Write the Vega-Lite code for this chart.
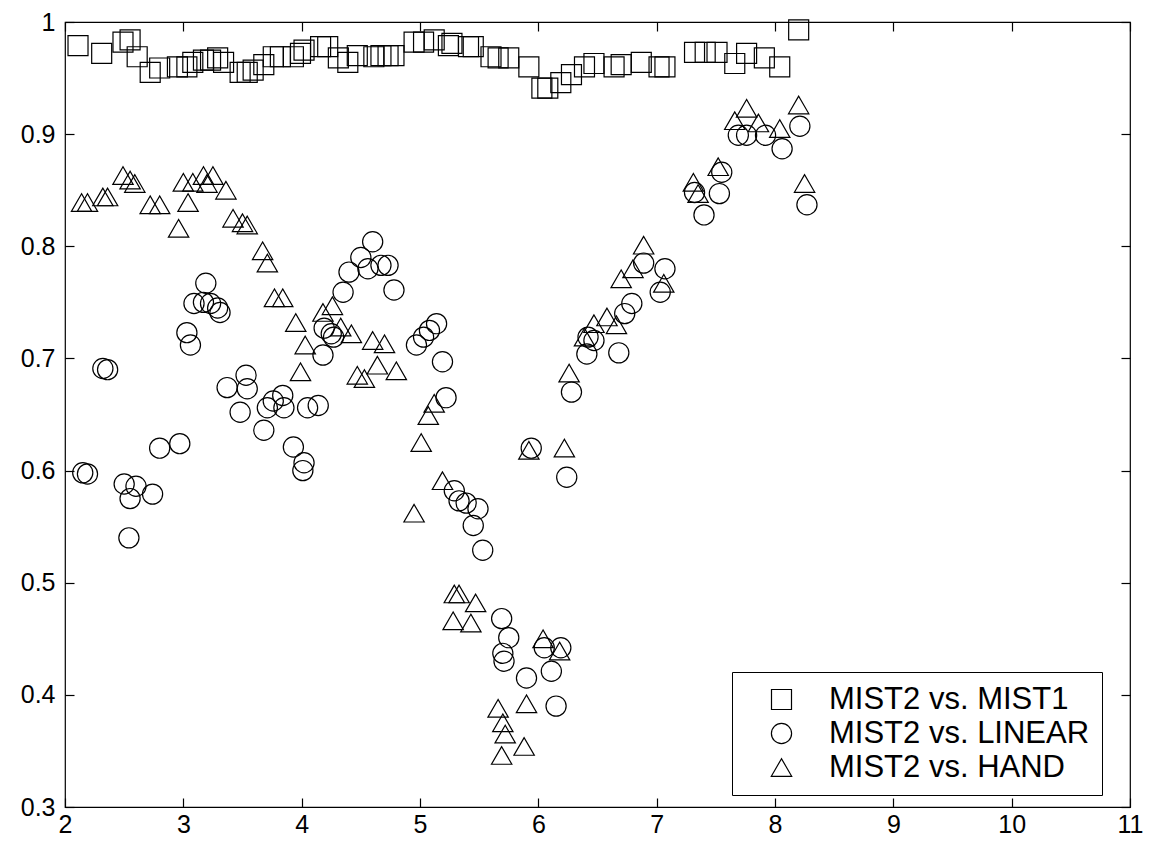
{
  "$schema": "https://vega.github.io/schema/vega-lite/v6.json",
  "width": 1065,
  "height": 785,
  "autosize": {"type": "none"},
  "padding": {"left": 65, "top": 22, "right": 30, "bottom": 39},
  "background": "white",
  "config": {
    "view": {"stroke": "black", "strokeWidth": 1.2},
    "font": "Liberation Sans",
    "axis": {"grid": false, "domain": false, "ticks": true, "tickColor": "black", "tickWidth": 1.2, "labelColor": "black", "labelFont": "Liberation Sans", "labelFontSize": 25, "title": null}
  },
  "data": {"values": [
    {"series": "MIST2 vs. MIST1", "x": 2.11, "y": 0.979},
    {"series": "MIST2 vs. MIST1", "x": 2.31, "y": 0.972},
    {"series": "MIST2 vs. MIST1", "x": 2.49, "y": 0.982},
    {"series": "MIST2 vs. MIST1", "x": 2.55, "y": 0.984},
    {"series": "MIST2 vs. MIST1", "x": 2.61, "y": 0.969},
    {"series": "MIST2 vs. MIST1", "x": 2.72, "y": 0.955},
    {"series": "MIST2 vs. MIST1", "x": 2.80, "y": 0.959},
    {"series": "MIST2 vs. MIST1", "x": 2.95, "y": 0.960},
    {"series": "MIST2 vs. MIST1", "x": 3.03, "y": 0.960},
    {"series": "MIST2 vs. MIST1", "x": 3.08, "y": 0.964},
    {"series": "MIST2 vs. MIST1", "x": 3.17, "y": 0.966},
    {"series": "MIST2 vs. MIST1", "x": 3.23, "y": 0.966},
    {"series": "MIST2 vs. MIST1", "x": 3.29, "y": 0.968},
    {"series": "MIST2 vs. MIST1", "x": 3.34, "y": 0.964},
    {"series": "MIST2 vs. MIST1", "x": 3.48, "y": 0.955},
    {"series": "MIST2 vs. MIST1", "x": 3.54, "y": 0.955},
    {"series": "MIST2 vs. MIST1", "x": 3.59, "y": 0.957},
    {"series": "MIST2 vs. MIST1", "x": 3.68, "y": 0.962},
    {"series": "MIST2 vs. MIST1", "x": 3.76, "y": 0.969},
    {"series": "MIST2 vs. MIST1", "x": 3.82, "y": 0.969},
    {"series": "MIST2 vs. MIST1", "x": 3.93, "y": 0.969},
    {"series": "MIST2 vs. MIST1", "x": 3.99, "y": 0.972},
    {"series": "MIST2 vs. MIST1", "x": 4.02, "y": 0.975},
    {"series": "MIST2 vs. MIST1", "x": 4.16, "y": 0.978},
    {"series": "MIST2 vs. MIST1", "x": 4.22, "y": 0.978},
    {"series": "MIST2 vs. MIST1", "x": 4.31, "y": 0.968},
    {"series": "MIST2 vs. MIST1", "x": 4.39, "y": 0.964},
    {"series": "MIST2 vs. MIST1", "x": 4.47, "y": 0.970},
    {"series": "MIST2 vs. MIST1", "x": 4.61, "y": 0.969},
    {"series": "MIST2 vs. MIST1", "x": 4.67, "y": 0.970},
    {"series": "MIST2 vs. MIST1", "x": 4.73, "y": 0.970},
    {"series": "MIST2 vs. MIST1", "x": 4.78, "y": 0.970},
    {"series": "MIST2 vs. MIST1", "x": 4.95, "y": 0.982},
    {"series": "MIST2 vs. MIST1", "x": 5.03, "y": 0.982},
    {"series": "MIST2 vs. MIST1", "x": 5.12, "y": 0.984},
    {"series": "MIST2 vs. MIST1", "x": 5.24, "y": 0.979},
    {"series": "MIST2 vs. MIST1", "x": 5.27, "y": 0.981},
    {"series": "MIST2 vs. MIST1", "x": 5.41, "y": 0.978},
    {"series": "MIST2 vs. MIST1", "x": 5.45, "y": 0.978},
    {"series": "MIST2 vs. MIST1", "x": 5.60, "y": 0.969},
    {"series": "MIST2 vs. MIST1", "x": 5.66, "y": 0.968},
    {"series": "MIST2 vs. MIST1", "x": 5.75, "y": 0.968},
    {"series": "MIST2 vs. MIST1", "x": 5.92, "y": 0.960},
    {"series": "MIST2 vs. MIST1", "x": 6.03, "y": 0.941},
    {"series": "MIST2 vs. MIST1", "x": 6.08, "y": 0.941},
    {"series": "MIST2 vs. MIST1", "x": 6.19, "y": 0.946},
    {"series": "MIST2 vs. MIST1", "x": 6.28, "y": 0.953},
    {"series": "MIST2 vs. MIST1", "x": 6.39, "y": 0.960},
    {"series": "MIST2 vs. MIST1", "x": 6.47, "y": 0.963},
    {"series": "MIST2 vs. MIST1", "x": 6.64, "y": 0.960},
    {"series": "MIST2 vs. MIST1", "x": 6.70, "y": 0.962},
    {"series": "MIST2 vs. MIST1", "x": 6.87, "y": 0.964},
    {"series": "MIST2 vs. MIST1", "x": 7.02, "y": 0.960},
    {"series": "MIST2 vs. MIST1", "x": 7.07, "y": 0.960},
    {"series": "MIST2 vs. MIST1", "x": 7.32, "y": 0.973},
    {"series": "MIST2 vs. MIST1", "x": 7.41, "y": 0.973},
    {"series": "MIST2 vs. MIST1", "x": 7.51, "y": 0.973},
    {"series": "MIST2 vs. MIST1", "x": 7.66, "y": 0.963},
    {"series": "MIST2 vs. MIST1", "x": 7.76, "y": 0.972},
    {"series": "MIST2 vs. MIST1", "x": 7.91, "y": 0.968},
    {"series": "MIST2 vs. MIST1", "x": 8.04, "y": 0.960},
    {"series": "MIST2 vs. MIST1", "x": 8.20, "y": 0.993},

    {"series": "MIST2 vs. LINEAR", "x": 2.15, "y": 0.598},
    {"series": "MIST2 vs. LINEAR", "x": 2.19, "y": 0.597},
    {"series": "MIST2 vs. LINEAR", "x": 2.32, "y": 0.691},
    {"series": "MIST2 vs. LINEAR", "x": 2.36, "y": 0.690},
    {"series": "MIST2 vs. LINEAR", "x": 2.50, "y": 0.588},
    {"series": "MIST2 vs. LINEAR", "x": 2.55, "y": 0.575},
    {"series": "MIST2 vs. LINEAR", "x": 2.60, "y": 0.586},
    {"series": "MIST2 vs. LINEAR", "x": 2.74, "y": 0.579},
    {"series": "MIST2 vs. LINEAR", "x": 2.54, "y": 0.540},
    {"series": "MIST2 vs. LINEAR", "x": 2.80, "y": 0.620},
    {"series": "MIST2 vs. LINEAR", "x": 2.97, "y": 0.624},
    {"series": "MIST2 vs. LINEAR", "x": 3.03, "y": 0.723},
    {"series": "MIST2 vs. LINEAR", "x": 3.06, "y": 0.712},
    {"series": "MIST2 vs. LINEAR", "x": 3.19, "y": 0.767},
    {"series": "MIST2 vs. LINEAR", "x": 3.09, "y": 0.749},
    {"series": "MIST2 vs. LINEAR", "x": 3.17, "y": 0.750},
    {"series": "MIST2 vs. LINEAR", "x": 3.23, "y": 0.749},
    {"series": "MIST2 vs. LINEAR", "x": 3.29, "y": 0.745},
    {"series": "MIST2 vs. LINEAR", "x": 3.31, "y": 0.741},
    {"series": "MIST2 vs. LINEAR", "x": 3.37, "y": 0.674},
    {"series": "MIST2 vs. LINEAR", "x": 3.53, "y": 0.685},
    {"series": "MIST2 vs. LINEAR", "x": 3.54, "y": 0.673},
    {"series": "MIST2 vs. LINEAR", "x": 3.48, "y": 0.652},
    {"series": "MIST2 vs. LINEAR", "x": 3.68, "y": 0.636},
    {"series": "MIST2 vs. LINEAR", "x": 3.76, "y": 0.662},
    {"series": "MIST2 vs. LINEAR", "x": 3.84, "y": 0.667},
    {"series": "MIST2 vs. LINEAR", "x": 3.85, "y": 0.656},
    {"series": "MIST2 vs. LINEAR", "x": 3.71, "y": 0.656},
    {"series": "MIST2 vs. LINEAR", "x": 4.05, "y": 0.656},
    {"series": "MIST2 vs. LINEAR", "x": 4.14, "y": 0.658},
    {"series": "MIST2 vs. LINEAR", "x": 3.93, "y": 0.621},
    {"series": "MIST2 vs. LINEAR", "x": 4.02, "y": 0.607},
    {"series": "MIST2 vs. LINEAR", "x": 4.01, "y": 0.600},
    {"series": "MIST2 vs. LINEAR", "x": 4.19, "y": 0.727},
    {"series": "MIST2 vs. LINEAR", "x": 4.25, "y": 0.722},
    {"series": "MIST2 vs. LINEAR", "x": 4.27, "y": 0.719},
    {"series": "MIST2 vs. LINEAR", "x": 4.18, "y": 0.703},
    {"series": "MIST2 vs. LINEAR", "x": 4.35, "y": 0.759},
    {"series": "MIST2 vs. LINEAR", "x": 4.40, "y": 0.777},
    {"series": "MIST2 vs. LINEAR", "x": 4.50, "y": 0.790},
    {"series": "MIST2 vs. LINEAR", "x": 4.60, "y": 0.804},
    {"series": "MIST2 vs. LINEAR", "x": 4.56, "y": 0.780},
    {"series": "MIST2 vs. LINEAR", "x": 4.67, "y": 0.783},
    {"series": "MIST2 vs. LINEAR", "x": 4.73, "y": 0.783},
    {"series": "MIST2 vs. LINEAR", "x": 4.78, "y": 0.761},
    {"series": "MIST2 vs. LINEAR", "x": 5.14, "y": 0.731},
    {"series": "MIST2 vs. LINEAR", "x": 5.08, "y": 0.725},
    {"series": "MIST2 vs. LINEAR", "x": 5.03, "y": 0.719},
    {"series": "MIST2 vs. LINEAR", "x": 4.97, "y": 0.712},
    {"series": "MIST2 vs. LINEAR", "x": 5.19, "y": 0.697},
    {"series": "MIST2 vs. LINEAR", "x": 5.22, "y": 0.665},
    {"series": "MIST2 vs. LINEAR", "x": 5.29, "y": 0.582},
    {"series": "MIST2 vs. LINEAR", "x": 5.33, "y": 0.573},
    {"series": "MIST2 vs. LINEAR", "x": 5.39, "y": 0.571},
    {"series": "MIST2 vs. LINEAR", "x": 5.49, "y": 0.566},
    {"series": "MIST2 vs. LINEAR", "x": 5.45, "y": 0.551},
    {"series": "MIST2 vs. LINEAR", "x": 5.53, "y": 0.529},
    {"series": "MIST2 vs. LINEAR", "x": 5.69, "y": 0.468},
    {"series": "MIST2 vs. LINEAR", "x": 5.75, "y": 0.451},
    {"series": "MIST2 vs. LINEAR", "x": 5.70, "y": 0.437},
    {"series": "MIST2 vs. LINEAR", "x": 5.71, "y": 0.430},
    {"series": "MIST2 vs. LINEAR", "x": 5.90, "y": 0.415},
    {"series": "MIST2 vs. LINEAR", "x": 6.05, "y": 0.442},
    {"series": "MIST2 vs. LINEAR", "x": 6.19, "y": 0.442},
    {"series": "MIST2 vs. LINEAR", "x": 6.11, "y": 0.421},
    {"series": "MIST2 vs. LINEAR", "x": 6.15, "y": 0.390},
    {"series": "MIST2 vs. LINEAR", "x": 5.94, "y": 0.620},
    {"series": "MIST2 vs. LINEAR", "x": 6.24, "y": 0.594},
    {"series": "MIST2 vs. LINEAR", "x": 6.28, "y": 0.670},
    {"series": "MIST2 vs. LINEAR", "x": 6.41, "y": 0.704},
    {"series": "MIST2 vs. LINEAR", "x": 6.42, "y": 0.719},
    {"series": "MIST2 vs. LINEAR", "x": 6.47, "y": 0.716},
    {"series": "MIST2 vs. LINEAR", "x": 6.68, "y": 0.705},
    {"series": "MIST2 vs. LINEAR", "x": 6.73, "y": 0.740},
    {"series": "MIST2 vs. LINEAR", "x": 6.79, "y": 0.749},
    {"series": "MIST2 vs. LINEAR", "x": 6.89, "y": 0.785},
    {"series": "MIST2 vs. LINEAR", "x": 7.07, "y": 0.780},
    {"series": "MIST2 vs. LINEAR", "x": 7.03, "y": 0.759},
    {"series": "MIST2 vs. LINEAR", "x": 7.32, "y": 0.848},
    {"series": "MIST2 vs. LINEAR", "x": 7.40, "y": 0.828},
    {"series": "MIST2 vs. LINEAR", "x": 7.53, "y": 0.847},
    {"series": "MIST2 vs. LINEAR", "x": 7.55, "y": 0.866},
    {"series": "MIST2 vs. LINEAR", "x": 7.69, "y": 0.899},
    {"series": "MIST2 vs. LINEAR", "x": 7.76, "y": 0.899},
    {"series": "MIST2 vs. LINEAR", "x": 7.92, "y": 0.899},
    {"series": "MIST2 vs. LINEAR", "x": 8.06, "y": 0.887},
    {"series": "MIST2 vs. LINEAR", "x": 8.21, "y": 0.907},
    {"series": "MIST2 vs. LINEAR", "x": 8.27, "y": 0.837},

    {"series": "MIST2 vs. HAND", "x": 2.14, "y": 0.839},
    {"series": "MIST2 vs. HAND", "x": 2.19, "y": 0.839},
    {"series": "MIST2 vs. HAND", "x": 2.32, "y": 0.844},
    {"series": "MIST2 vs. HAND", "x": 2.36, "y": 0.844},
    {"series": "MIST2 vs. HAND", "x": 2.49, "y": 0.863},
    {"series": "MIST2 vs. HAND", "x": 2.55, "y": 0.859},
    {"series": "MIST2 vs. HAND", "x": 2.59, "y": 0.856},
    {"series": "MIST2 vs. HAND", "x": 2.72, "y": 0.837},
    {"series": "MIST2 vs. HAND", "x": 2.80, "y": 0.837},
    {"series": "MIST2 vs. HAND", "x": 2.96, "y": 0.816},
    {"series": "MIST2 vs. HAND", "x": 3.04, "y": 0.839},
    {"series": "MIST2 vs. HAND", "x": 3.00, "y": 0.857},
    {"series": "MIST2 vs. HAND", "x": 3.08, "y": 0.857},
    {"series": "MIST2 vs. HAND", "x": 3.17, "y": 0.863},
    {"series": "MIST2 vs. HAND", "x": 3.25, "y": 0.863},
    {"series": "MIST2 vs. HAND", "x": 3.20, "y": 0.856},
    {"series": "MIST2 vs. HAND", "x": 3.36, "y": 0.850},
    {"series": "MIST2 vs. HAND", "x": 3.42, "y": 0.825},
    {"series": "MIST2 vs. HAND", "x": 3.50, "y": 0.821},
    {"series": "MIST2 vs. HAND", "x": 3.54, "y": 0.819},
    {"series": "MIST2 vs. HAND", "x": 3.67, "y": 0.796},
    {"series": "MIST2 vs. HAND", "x": 3.71, "y": 0.785},
    {"series": "MIST2 vs. HAND", "x": 3.77, "y": 0.754},
    {"series": "MIST2 vs. HAND", "x": 3.84, "y": 0.754},
    {"series": "MIST2 vs. HAND", "x": 3.95, "y": 0.732},
    {"series": "MIST2 vs. HAND", "x": 4.03, "y": 0.712},
    {"series": "MIST2 vs. HAND", "x": 3.99, "y": 0.688},
    {"series": "MIST2 vs. HAND", "x": 4.18, "y": 0.741},
    {"series": "MIST2 vs. HAND", "x": 4.26, "y": 0.747},
    {"series": "MIST2 vs. HAND", "x": 4.33, "y": 0.728},
    {"series": "MIST2 vs. HAND", "x": 4.42, "y": 0.722},
    {"series": "MIST2 vs. HAND", "x": 4.47, "y": 0.685},
    {"series": "MIST2 vs. HAND", "x": 4.53, "y": 0.682},
    {"series": "MIST2 vs. HAND", "x": 4.60, "y": 0.716},
    {"series": "MIST2 vs. HAND", "x": 4.70, "y": 0.713},
    {"series": "MIST2 vs. HAND", "x": 4.64, "y": 0.694},
    {"series": "MIST2 vs. HAND", "x": 4.80, "y": 0.689},
    {"series": "MIST2 vs. HAND", "x": 5.07, "y": 0.649},
    {"series": "MIST2 vs. HAND", "x": 5.01, "y": 0.625},
    {"series": "MIST2 vs. HAND", "x": 5.12, "y": 0.660},
    {"series": "MIST2 vs. HAND", "x": 4.95, "y": 0.562},
    {"series": "MIST2 vs. HAND", "x": 5.19, "y": 0.591},
    {"series": "MIST2 vs. HAND", "x": 5.29, "y": 0.490},
    {"series": "MIST2 vs. HAND", "x": 5.33, "y": 0.490},
    {"series": "MIST2 vs. HAND", "x": 5.47, "y": 0.482},
    {"series": "MIST2 vs. HAND", "x": 5.28, "y": 0.466},
    {"series": "MIST2 vs. HAND", "x": 5.43, "y": 0.464},
    {"series": "MIST2 vs. HAND", "x": 6.04, "y": 0.450},
    {"series": "MIST2 vs. HAND", "x": 6.18, "y": 0.439},
    {"series": "MIST2 vs. HAND", "x": 5.66, "y": 0.388},
    {"series": "MIST2 vs. HAND", "x": 5.70, "y": 0.375},
    {"series": "MIST2 vs. HAND", "x": 5.72, "y": 0.365},
    {"series": "MIST2 vs. HAND", "x": 5.69, "y": 0.346},
    {"series": "MIST2 vs. HAND", "x": 5.88, "y": 0.354},
    {"series": "MIST2 vs. HAND", "x": 5.90, "y": 0.392},
    {"series": "MIST2 vs. HAND", "x": 5.92, "y": 0.618},
    {"series": "MIST2 vs. HAND", "x": 6.22, "y": 0.620},
    {"series": "MIST2 vs. HAND", "x": 6.26, "y": 0.687},
    {"series": "MIST2 vs. HAND", "x": 6.39, "y": 0.719},
    {"series": "MIST2 vs. HAND", "x": 6.47, "y": 0.731},
    {"series": "MIST2 vs. HAND", "x": 6.58, "y": 0.737},
    {"series": "MIST2 vs. HAND", "x": 6.66, "y": 0.730},
    {"series": "MIST2 vs. HAND", "x": 6.70, "y": 0.771},
    {"series": "MIST2 vs. HAND", "x": 6.80, "y": 0.780},
    {"series": "MIST2 vs. HAND", "x": 6.89, "y": 0.801},
    {"series": "MIST2 vs. HAND", "x": 7.06, "y": 0.767},
    {"series": "MIST2 vs. HAND", "x": 7.31, "y": 0.857},
    {"series": "MIST2 vs. HAND", "x": 7.35, "y": 0.847},
    {"series": "MIST2 vs. HAND", "x": 7.52, "y": 0.871},
    {"series": "MIST2 vs. HAND", "x": 7.66, "y": 0.912},
    {"series": "MIST2 vs. HAND", "x": 7.76, "y": 0.923},
    {"series": "MIST2 vs. HAND", "x": 7.86, "y": 0.910},
    {"series": "MIST2 vs. HAND", "x": 8.04, "y": 0.905},
    {"series": "MIST2 vs. HAND", "x": 8.20, "y": 0.926},
    {"series": "MIST2 vs. HAND", "x": 8.25, "y": 0.856}
  ]},
  "layer": [
    {
      "mark": {"type": "point", "filled": false, "color": "black", "strokeWidth": 1.2, "opacity": 1},
      "encoding": {
        "x": {"field": "x", "type": "quantitative", "scale": {"domain": [2, 11], "nice": false, "zero": false},
              "axis": {"orient": "bottom", "values": [2,3,4,5,6,7,8,9,10,11], "tickSize": -9, "labelPadding": 14, "labelFlush": false, "labelOverlap": false}},
        "y": {"field": "y", "type": "quantitative", "scale": {"domain": [0.3, 1], "nice": false, "zero": false},
              "axis": {"orient": "left", "values": [0.3,0.4,0.5,0.6,0.7,0.8,0.9,1], "tickSize": -9, "labelPadding": 19, "labelFlush": false, "labelOverlap": false, "format": "~g"}},
        "shape": {"field": "series", "type": "nominal",
                  "scale": {"domain": ["MIST2 vs. MIST1", "MIST2 vs. LINEAR", "MIST2 vs. HAND"], "range": ["square", "circle", "triangle-up"]},
                  "legend": {"title": null, "orient": "none", "legendX": 667, "legendY": 650, "direction": "vertical",
                             "labelFontSize": 31, "labelFont": "Liberation Sans", "labelColor": "black", "labelLimit": 500,
                             "strokeColor": "black", "fillColor": "white", "padding": 12, "rowPadding": 2,
                             "symbolOffset": 22, "labelOffset": 32, "symbolStrokeColor": "black", "symbolStrokeWidth": 1.2}},
        "size": {"field": "series", "type": "nominal",
                 "scale": {"domain": ["MIST2 vs. MIST1", "MIST2 vs. LINEAR", "MIST2 vs. HAND"], "range": [400, 415, 560]}}
      }
    },
    {
      "mark": {"type": "point", "opacity": 0},
      "encoding": {
        "x": {"field": "x", "type": "quantitative", "axis": {"orient": "top", "values": [2,3,4,5,6,7,8,9,10,11], "tickSize": -9, "labels": false}},
        "y": {"field": "y", "type": "quantitative", "axis": {"orient": "right", "values": [0.3,0.4,0.5,0.6,0.7,0.8,0.9,1], "tickSize": -9, "labels": false}}
      }
    }
  ]
}
